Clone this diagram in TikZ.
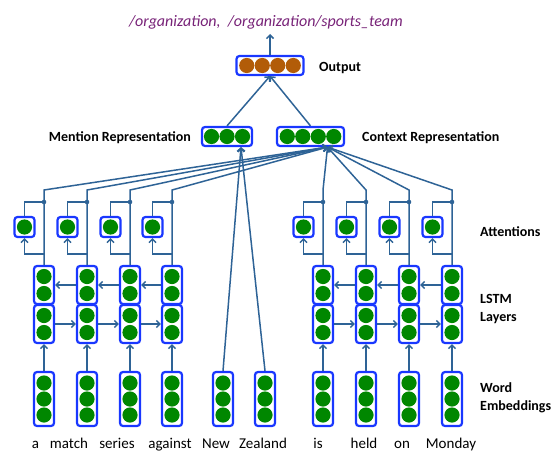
\documentclass[tikz,border=0pt]{standalone}
\usepackage{fontspec}
\setmainfont{Carlito}
\usetikzlibrary{arrows.meta}
\definecolor{boxblue}{RGB}{25,55,255}
\definecolor{dotgreen}{RGB}{0,135,0}
\definecolor{dotbrown}{RGB}{178,92,8}
\definecolor{lineblue}{RGB}{46,99,150}
\definecolor{titlepurple}{RGB}{120,35,120}
\tikzset{
  box/.style={draw=boxblue, line width=2.2pt, rounded corners=3pt, inner sep=0pt},
  emb/.style={box, minimum width=20pt, minimum height=54pt,
    path picture={\foreach \d in {-16,0,16}\fill[dotgreen]([yshift=\d pt]path picture bounding box.center) circle (7.6pt);}},
  lstm/.style={box, minimum width=20pt, minimum height=38pt,
    path picture={\foreach \d in {-8.5,8.5}\fill[dotgreen]([yshift=\d pt]path picture bounding box.center) circle (7.6pt);}},
  attn/.style={box, minimum width=20pt, minimum height=20pt,
    path picture={\fill[dotgreen](path picture bounding box.center) circle (7.6pt);}},
  hthree/.style={box, minimum width=50pt, minimum height=19pt,
    path picture={\foreach \d in {-15.5,0,15.5}\fill[dotgreen]([xshift=\d pt]path picture bounding box.center) circle (7.6pt);}},
  hfour/.style={box, minimum width=67pt, minimum height=19pt,
    path picture={\foreach \d in {-23.25,-7.75,7.75,23.25}\fill[#1]([xshift=\d pt]path picture bounding box.center) circle (7.6pt);}},
  conn/.style={draw=lineblue, line width=1.5pt},
  arr/.style={-{Straight Barb[length=3.5pt,width=7pt]}},
  lab/.style={font=\fontsize{14}{16}\selectfont\bfseries, anchor=base west, inner sep=0pt},
  word/.style={font=\fontsize{15}{17}\selectfont, anchor=base, inner sep=0pt},
}
\begin{document}
\begin{tikzpicture}[x=1pt,y=-1pt]
\useasboundingbox (0,0) rectangle (556,452);
% title
\node[anchor=base, inner sep=0pt, text=titlepurple, font=\fontsize{16}{18}\selectfont\itshape] (title) at (266,27) {/organization,\ \ /organization/sports\_team};
\coordinate (ttip) at (270,34);
% top boxes
\node[hfour=dotbrown] (out) at (270,65.5) {};
\node[hthree] (men) at (227,136.5) {};
\node[hfour=dotgreen] (ctx) at (310.5,136.5) {};
\coordinate (cin) at ([xshift=17pt]ctx.south);
\coordinate (min) at ([xshift=14pt]men.south);
\coordinate (turn) at (0,190);
\coordinate (doty) at (0,202);
\coordinate (bry) at (0,254);
% labels
\node[lab] (lout) at (319,71) {Output};
\node[lab, anchor=base east] (lmen) at (191,141) {Mention Representation};
\node[lab] (lctx) at (362,141) {Context Representation};
\node[lab] (latt) at (480,236) {Attentions};
\node[lab] (llstm) at (480,303) {LSTM};
\node[lab] (llay) at (480,321) {Layers};
\node[lab] (lword) at (480,392) {Word};
\node[lab] (lemb) at (480,410) {Embeddings};
% embeddings
\foreach \i/\x in {1/44,2/87,3/130,4/172,5/223,6/265,7/323,8/366,9/409,10/452}
  \node[emb] (e\i) at (\x,399) {};
% lstm and attentions
\foreach \i/\x in {1/44,2/87,3/130,4/172,7/323,8/366,9/409,10/452}{
  \node[lstm] (b\i) at (\x,285) {};
  \node[lstm] (f\i) at (\x,324) {};
  \node[attn] (a\i) at (\x-19.5,227) {};
  \draw[conn,arr] (e\i.north) -- (f\i.south);
  \draw[conn,arr] (b\i.north) -- (b\i.north |- turn) -- (cin);
  \fill[lineblue] (b\i.north |- doty) circle (2.3pt);
  \draw[conn] (b\i.north |- doty) -| (a\i.north);
  \draw[conn,arr] (b\i.north |- bry) -| (a\i.south);
}
% recurrent arrows
\foreach \p/\q in {1/2,2/3,3/4,7/8,8/9,9/10}{
  \draw[conn,arr] (f\p.east) -- (f\q.west);
  \draw[conn,arr] (b\q.west) -- (b\p.east);
}
% mention
\draw[conn,arr] (e5.north) -- (min);
\draw[conn,arr] (e6.north) -- (min);
% output
\draw[conn,arr] (men.north) -- (out.south);
\draw[conn,arr] (ctx.north) -- (out.south);
\draw[conn,arr] (out.north) -- (ttip);
% words
\foreach \t/\x in {a/35.5,match/69,series/117,against/170,New/216,Zealand/263,is/318,held/364,on/402,Monday/451}
  \node[word] (w\t) at (\x,448) {\t};
\end{tikzpicture}
\end{document}
